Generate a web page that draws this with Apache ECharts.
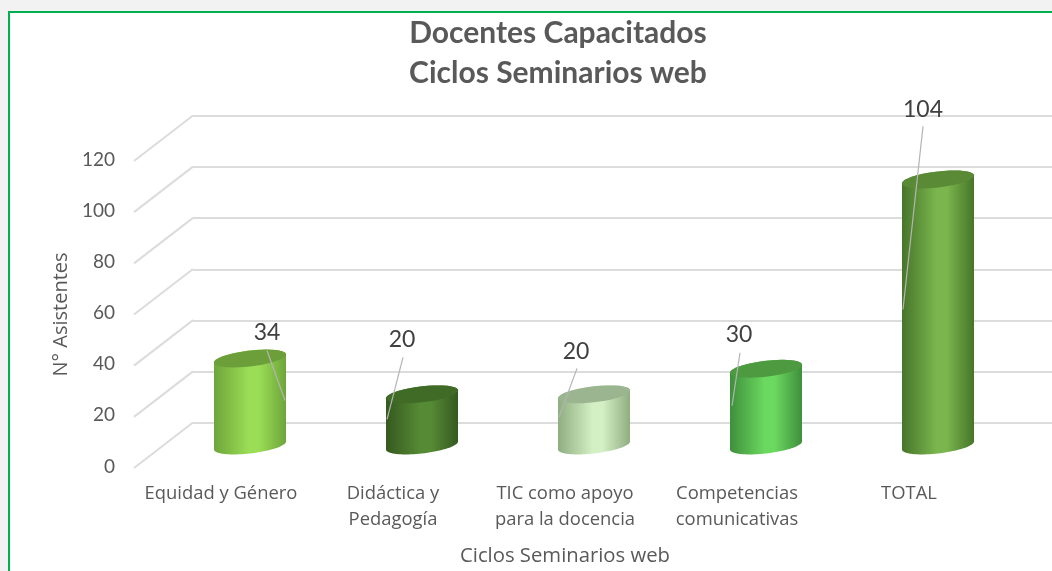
<!DOCTYPE html>
<html><head><meta charset="utf-8">
<style>html,body{margin:0;padding:0;background:#f2f2f2}#c{width:1052px;height:571px}</style>
<script src="https://cdn.jsdelivr.net/npm/echarts@6/dist/echarts.min.js"></script>
</head><body><div id="c"></div>
<script>
const categories = ['Equidad y Género','Didáctica y\nPedagogía','TIC como apoyo\npara la docencia','Competencias\ncomunicativas','TOTAL'];
const values = [34,20,20,30,104];
const ticks = [0,20,40,60,80,100,120];
const titleText = 'Docentes Capacitados\nCiclos Seminarios web';
const xName = 'Ciclos Seminarios web';
const yName = 'N° Asistentes';

// appearance, kept apart from the data: [edge, centre, top face]
const shades = [['#6ea53a','#9bdd56','#6c9f39'],['#35591f','#568b35','#3f6b27'],['#8fae80','#d3efc4','#9ab590'],['#3f8f3c','#6bd85f','#4d9a41'],['#47752a','#7ab64d','#5a8a36']];
// label and leader placement relative to the cylinder's top centre: [labelDx,labelDy,x1,y1,x2,y2]
const callouts = [[17,-26,17,-8,35,42],[-20,-55,-19,-37,-35,25],[-18,-43,-17,-26,-35,23],[-27,-34,-26,-16,-34,37],[-15,-70,-15,-53,-35,130]];
const font = 'Lato, "Open Sans", sans-serif';
const textFont = '"Open Sans", Lato, sans-serif';
const grey = '#595959';

function ellipse(cx, cy, from, to){
  const pts = [];
  for (let i = 0; i <= 40; i++){
    const t = from + (to - from) * i / 40;
    pts.push([cx + 36 * Math.cos(t), cy + 8 * Math.sin(t) - 4 * Math.cos(t)]);
  }
  return pts;
}

const chart = echarts.init(document.getElementById('c'));
chart.setOption({
  animation: false,
  backgroundColor: '#f2f2f2',
  title: {text: titleText, left: 553, top: 8, textAlign: 'center',
    textStyle: {fontFamily: font, fontSize: 30, fontWeight: 'bold', color: grey, lineHeight: 40}},
  graphic: [{type:'rect', z:-10, shape:{x:9,y:12,width:1100,height:620},
    style:{fill:'#fff',stroke:'#00b050',lineWidth:2}}],
  grid: [
    {left:193, right:0, top:115.5, height:307.5},   // back wall
    {left:135, width:860, top:161, height:307},     // front plane
    {left:164, width:860, top:138.5, height:307}    // plane through the cylinders
  ],
  xAxis: [
    {gridIndex:0, type:'category', data:categories, show:false},
    {gridIndex:1, type:'category', data:categories, axisLine:{show:false}, axisTick:{show:false},
      axisLabel:{interval:0, margin:13, fontFamily:textFont, fontSize:18.4, color:grey, lineHeight:26, verticalAlign:'top'},
      name:xName, nameLocation:'middle', nameGap:78,
      nameTextStyle:{fontFamily:textFont, fontSize:20.3, color:grey}},
    {gridIndex:2, type:'category', data:categories, show:false}
  ],
  yAxis: [
    {gridIndex:0, type:'value', min:0, max:120, interval:20, axisLine:{show:false}, axisTick:{show:false},
      axisLabel:{show:false}, splitLine:{lineStyle:{color:'#dcdcdc', width:2}}},
    {gridIndex:1, type:'value', min:0, max:120, interval:20, axisLine:{show:false}, axisTick:{show:false},
      splitLine:{show:false},
      axisLabel:{margin:20, fontFamily:font, fontSize:19, color:grey, verticalAlign:'bottom', lineHeight:3},
      name:yName, nameLocation:'middle', nameGap:62,
      nameTextStyle:{fontFamily:textFont, fontSize:20, color:grey}},
    {gridIndex:2, type:'value', min:0, max:120, interval:20, show:false}
  ],
  series: [
    {type:'custom', xAxisIndex:1, yAxisIndex:1, silent:true, z:1, clip:false,
      data: ticks.map(v => [0, v]),
      encode:{x:0,y:1},
      renderItem(p, api){
        const a = api.coord([0, api.value(1)]);
        const x0 = a[0] - api.size([1,0])[0] / 2 - 1;
        return {type:'line', shape:{x1:x0, y1:a[1], x2:x0+59, y2:a[1]-45.5},
          style:{stroke:'#dcdcdc', lineWidth:2}};
      }},
    {type:'custom', xAxisIndex:2, yAxisIndex:2, silent:true, z:3, clip:false,
      data: values.map((v,i) => [i, v]),
      encode:{x:0,y:1},
      renderItem(p, api){
        const i = p.dataIndex, s = shades[i], c = callouts[i];
        const top = api.coord([i, api.value(1)]);
        const base = api.coord([i, 0]);
        const cx = top[0];
        const fill = new echarts.graphic.LinearGradient(0,0,1,0,[
          {offset:0,color:s[0]},{offset:.48,color:s[1]},{offset:.62,color:s[1]},{offset:1,color:s[0]}]);
        return {type:'group', children:[
          {type:'polygon', shape:{points:ellipse(cx, base[1], 0, Math.PI).concat(ellipse(cx, top[1], Math.PI, 2*Math.PI))}, style:{fill}},
          {type:'polygon', shape:{points:ellipse(cx, top[1], 0, 2*Math.PI)}, style:{fill:s[2]}},
          {type:'line', shape:{x1:cx+c[2],y1:top[1]+c[3],x2:cx+c[4],y2:top[1]+c[5]}, style:{stroke:'#b4b4b4',lineWidth:1.2}},
          {type:'text', x:cx+c[0], y:top[1]+c[1], style:{text:String(api.value(1)), fontFamily:font, fontSize:23, fill:'#404040', align:'center', verticalAlign:'middle'}}
        ]};
      }}
  ]
});
</script></body></html>
